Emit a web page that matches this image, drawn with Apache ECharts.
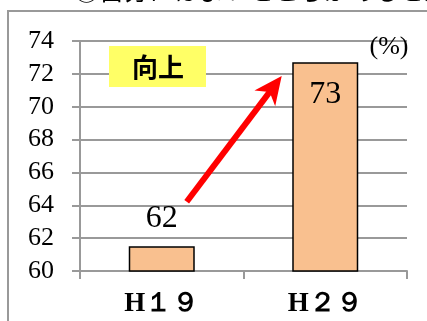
<!DOCTYPE html>
<html>
<head>
<meta charset="utf-8">
<script src="https://cdn.jsdelivr.net/npm/echarts@6/dist/echarts.min.js"></script>
<style>
html,body{margin:0;padding:0;background:#fff;}
#main{width:427px;height:321px;}
</style>
</head>
<body>
<div id="main"></div>
<script>
var categories = ['H１９', 'H２９'];
var values = [61.5, 72.7];
var dataLabels = ['62', '73'];
var yTicks = { min: 60, max: 74, interval: 2 };
var titleText = '①自分にはよいところがあると思う';
var badgeText = '向上';
var unitText = '(%)';

var chart = echarts.init(document.getElementById('main'), null, { renderer: 'canvas' });

var tip = [281.7, 76], start = [186.7, 201.7];
var dx = tip[0] - start[0], dy = tip[1] - start[1];
var len = Math.sqrt(dx * dx + dy * dy);
var ux = dx / len, uy = dy / len, px = -uy, py = ux;
var back = 28, half = 13, notch = 20;
var headPts = [
  tip,
  [tip[0] - ux * back + px * half, tip[1] - uy * back + py * half],
  [tip[0] - ux * notch, tip[1] - uy * notch],
  [tip[0] - ux * back - px * half, tip[1] - uy * back - py * half]
];

var SERIF = 'Liberation Serif';

chart.setOption({
  animation: false,
  backgroundColor: '#ffffff',
  grid: { left: 80, right: 20, top: 41, bottom: 50 },
  xAxis: {
    type: 'category',
    data: categories,
    axisLabel: { color: '#000000', fontSize: 27, fontWeight: 'bold', fontFamily: SERIF, margin: 20 },
    axisLine: { lineStyle: { color: '#999999', width: 2 } },
    axisTick: { show: true, length: 8, lineStyle: { color: '#999999', width: 2 } }
  },
  yAxis: {
    type: 'value',
    min: yTicks.min,
    max: yTicks.max,
    interval: yTicks.interval,
    axisLabel: { color: '#000000', fontSize: 26, fontFamily: SERIF, margin: 26 },
    axisLine: { show: true, lineStyle: { color: '#999999', width: 2 } },
    axisTick: { show: true, length: 8, lineStyle: { color: '#999999', width: 2 } },
    splitLine: { lineStyle: { color: '#999999', width: 2 } }
  },
  series: [{
    type: 'bar',
    data: values.map(function (v, i) {
      return {
        value: v,
        label: i === 0
          ? { position: 'top', distance: 12 }
          : { position: 'insideTop', distance: 16 }
      };
    }),
    barWidth: 66,
    itemStyle: { color: '#F9C08F', borderColor: '#000', borderWidth: 1.5 },
    label: {
      show: true,
      color: '#000',
      fontSize: 32,
      fontFamily: SERIF,
      formatter: function (p) { return dataLabels[p.dataIndex]; }
    }
  }],
  graphic: [
    {
      type: 'rect', z: 0, silent: true,
      shape: { x: 8, y: 11, width: 600, height: 500 },
      style: { fill: 'none', stroke: '#999999', lineWidth: 2 }
    },
    {
      type: 'text', z: 10, silent: true,
      x: 74, y: -22,
      style: { text: titleText, fontSize: 25, fill: '#000', fontFamily: 'Noto Sans CJK JP' }
    },
    {
      type: 'rect', z: 10, silent: true,
      shape: { x: 109, y: 46, width: 97, height: 41 },
      style: { fill: '#FFFF66' }
    },
    {
      type: 'text', z: 11, silent: true,
      x: 158, y: 67,
      style: { text: badgeText, fontSize: 26, fontWeight: 'bold', fill: '#000', align: 'center', verticalAlign: 'middle', fontFamily: 'Noto Sans CJK JP' }
    },
    {
      type: 'text', z: 11, silent: true,
      x: 389, y: 47,
      style: { text: unitText, fontSize: 26, fill: '#000', align: 'center', verticalAlign: 'middle', fontFamily: SERIF }
    },
    {
      type: 'line', z: 12, silent: true,
      shape: { x1: start[0], y1: start[1], x2: tip[0] - ux * 18, y2: tip[1] - uy * 18 },
      style: { stroke: '#FF0000', lineWidth: 6 }
    },
    {
      type: 'polygon', z: 12, silent: true,
      shape: { points: headPts },
      style: { fill: '#FF0000' }
    }
  ]
});
</script>
</body>
</html>
